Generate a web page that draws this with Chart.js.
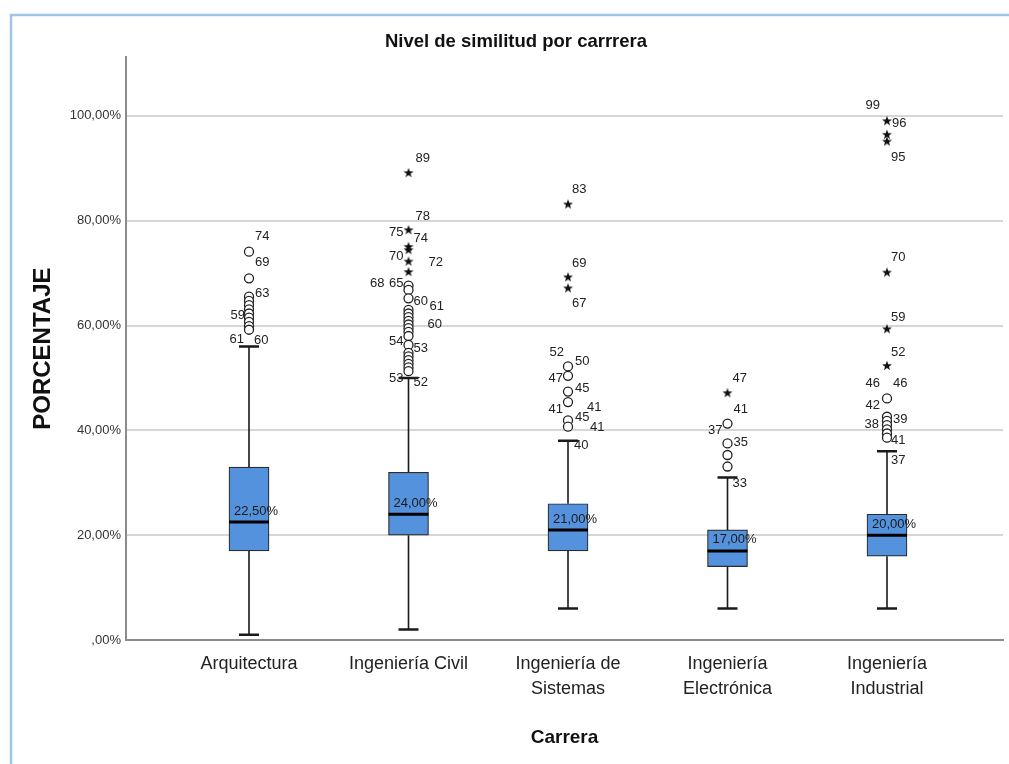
<!DOCTYPE html>
<html>
<head>
<meta charset="utf-8">
<script src="https://cdn.jsdelivr.net/npm/chart.js"></script>
<style>
  body { margin: 0; background: #fff; }
</style>
</head>
<body>
<canvas id="box" width="1009" height="764"></canvas>
<script>
// categorias (lineas de la etiqueta)
const carreras = [['Arquitectura'], ['Ingeniería Civil'], ['Ingeniería de', 'Sistemas'], ['Ingeniería', 'Electrónica'], ['Ingeniería', 'Industrial']];

// resumen de cada caja (%)
const bigoteMin = [1, 2, 6, 6, 6];
const q1 = [17, 20, 17, 14, 16];
const mediana = [22.5, 24, 21, 17, 20];
const q3 = [33, 32, 26, 21, 24];
const bigoteMax = [56, 50, 38, 31, 36];
const medianaTxt = ['22,50%', '24,00%', '21,00%', '17,00%', '20,00%'];

const yTicks = [0, 20, 40, 60, 80, 100];

// atipicos (circulo): [carrera, valor]
const atipicos = [
  [0, 74.1], [0, 69.0], [0, 65.5], [0, 64.7], [0, 63.9], [0, 63.1], [0, 62.3], [0, 61.5], [0, 60.7], [0, 59.9], [0, 59.2],
  [1, 67.6], [1, 66.8], [1, 65.2], [1, 63.0], [1, 62.3], [1, 61.6], [1, 60.9], [1, 60.2], [1, 59.5], [1, 58.8], [1, 58.0],
  [1, 56.3], [1, 54.8], [1, 54.1], [1, 53.4], [1, 52.7], [1, 52.0], [1, 51.3],
  [2, 52.2], [2, 50.4], [2, 47.4], [2, 45.4], [2, 41.9], [2, 40.7],
  [3, 41.3], [3, 37.5], [3, 35.3], [3, 33.1],
  [4, 46.1], [4, 42.6], [4, 41.8], [4, 41.0], [4, 40.2], [4, 39.4], [4, 38.6]
];
// extremos (estrella): [carrera, valor]
const extremos = [
  [1, 89.1], [1, 78.2], [1, 75.0], [1, 74.4], [1, 72.2], [1, 70.2],
  [2, 83.1], [2, 69.2], [2, 67.1],
  [3, 47.1],
  [4, 99.0], [4, 96.4], [4, 95.1], [4, 70.1], [4, 59.3], [4, 52.3]
];

// numero de caso: [texto, carrera, valor del punto al que acompana]
const casos = [
  ['74', 0, 74.1], ['69', 0, 69.0], ['63', 0, 65.5], ['59', 0, 61.5], ['61', 0, 59.2], ['60', 0, 59.2],
  ['89', 1, 89.1], ['78', 1, 78.2], ['75', 1, 78.2], ['74', 1, 75.0], ['70', 1, 72.2], ['72', 1, 72.2],
  ['68', 1, 67.6], ['65', 1, 67.6], ['60', 1, 65.2], ['61', 1, 65.2], ['60', 1, 60.2], ['54', 1, 56.3],
  ['53', 1, 56.3], ['53', 1, 51.3], ['52', 1, 51.3],
  ['83', 2, 83.1], ['69', 2, 69.2], ['67', 2, 67.1], ['52', 2, 52.2], ['50', 2, 52.2], ['47', 2, 50.4],
  ['45', 2, 47.4], ['41', 2, 45.4], ['41', 2, 45.4], ['45', 2, 41.9], ['41', 2, 40.7], ['40', 2, 38],
  ['47', 3, 47.1], ['41', 3, 41.3], ['37', 3, 41.3], ['35', 3, 37.5], ['33', 3, 31],
  ['99', 4, 99.0], ['96', 4, 99.0], ['95', 4, 95.1], ['70', 4, 70.1], ['59', 4, 59.3], ['52', 4, 52.3],
  ['46', 4, 46.1], ['46', 4, 46.1], ['42', 4, 46.1], ['38', 4, 42.6], ['39', 4, 42.6], ['41', 4, 38.6], ['37', 4, 36]
];
// desplazamiento en px de cada numero de caso (dx<0: a la izquierda)
const casosPos = [
  [6, -15], [6, -16], [6, -3], [-4, -2], [-5, 10], [5, 11],
  [7, -15], [7, -14], [-5, 2], [5, -9], [-5, -5], [20, 1],
  [-24, -2], [-5, -2], [5, 3], [21, 8], [19, 0], [-5, -4],
  [5, 3], [-5, 7], [5, 11],
  [4, -15], [4, -14], [4, 15], [-4, -14], [7, -5], [-5, 3],
  [7, -3], [-5, 7], [19, 5], [7, -3], [22, 1], [6, 5],
  [5, -15], [6, -14], [-5, 7], [6, -1], [5, 6],
  [-7, -16], [5, 2], [4, 16], [4, -15], [4, -12], [4, -13],
  [-7, -15], [6, -15], [-7, 7], [-8, 8], [6, 3], [4, 3], [4, 9]
];

const FN = '"Liberation Sans", Arial, sans-serif';

function estrella() {
  const c = document.createElement('canvas');
  c.width = 12; c.height = 12;
  const g = c.getContext('2d');
  g.fillStyle = '#111';
  g.beginPath();
  for (let k = 0; k < 10; k++) {
    const r = k % 2 ? 2.1 : 5.2;
    const a = -Math.PI / 2 + k * Math.PI / 5;
    g.lineTo(6 + r * Math.cos(a), 6 + r * Math.sin(a));
  }
  g.closePath();
  g.fill();
  return c;
}

const cajaExtra = {
  id: 'cajaExtra',
  beforeDatasetsDraw(chart) {
    const {ctx, scales: {x, y}} = chart;
    ctx.save();
    ctx.strokeStyle = '#1a1a1a';
    carreras.forEach((c, i) => {
      const px = x.getPixelForValue(i + 1);
      const top = y.getPixelForValue(bigoteMax[i]);
      const bot = y.getPixelForValue(bigoteMin[i]);
      ctx.lineWidth = 1.6;
      ctx.beginPath();
      ctx.moveTo(px, top); ctx.lineTo(px, y.getPixelForValue(q3[i]));
      ctx.moveTo(px, y.getPixelForValue(q1[i])); ctx.lineTo(px, bot);
      ctx.stroke();
      ctx.lineWidth = 2.5;
      ctx.beginPath();
      ctx.moveTo(px - 10, top); ctx.lineTo(px + 10, top);
      ctx.moveTo(px - 10, bot); ctx.lineTo(px + 10, bot);
      ctx.stroke();
    });
    ctx.restore();
  },
  afterDatasetsDraw(chart) {
    const {ctx, scales: {x, y}} = chart;
    const barras = chart.getDatasetMeta(0).data;
    ctx.save();
    carreras.forEach((c, i) => {
      const b = barras[i];
      const my = y.getPixelForValue(mediana[i]);
      ctx.strokeStyle = '#000';
      ctx.lineWidth = 3;
      ctx.beginPath();
      ctx.moveTo(b.x - b.width / 2, my); ctx.lineTo(b.x + b.width / 2, my);
      ctx.stroke();
      ctx.fillStyle = '#1a1a1a';
      ctx.font = '13px ' + FN;
      ctx.textAlign = 'left';
      ctx.textBaseline = 'middle';
      ctx.fillText(medianaTxt[i], b.x - b.width / 2 + 5, my - 11);
    });
    ctx.font = '13px ' + FN;
    ctx.fillStyle = '#222';
    ctx.textBaseline = 'middle';
    casos.forEach(([t, c, v], k) => {
      const [dx, dy] = casosPos[k];
      ctx.textAlign = dx < 0 ? 'right' : 'left';
      ctx.fillText(t, x.getPixelForValue(c + 1) + dx, y.getPixelForValue(v) + dy);
    });
    ctx.restore();
  }
};

const marco = {
  id: 'marco',
  afterDraw(chart) {
    const ctx = chart.ctx;
    ctx.save();
    ctx.strokeStyle = '#9fc5e8';
    ctx.lineWidth = 2.5;
    ctx.beginPath();
    ctx.moveTo(11, 764); ctx.lineTo(11, 15); ctx.lineTo(1009, 15);
    ctx.stroke();
    ctx.restore();
  }
};

new Chart(document.getElementById('box'), {
  type: 'bar',
  data: {
    datasets: [
      {
        type: 'bar',
        data: carreras.map((c, i) => ({x: i + 1, y: [q1[i], q3[i]]})),
        backgroundColor: '#5592dd',
        borderColor: '#2b2b2b',
        borderWidth: 1.2,
        borderSkipped: false,
        barThickness: 40
      },
      {
        type: 'scatter',
        data: atipicos.map(([c, v]) => ({x: c + 1, y: v})),
        pointStyle: 'circle',
        radius: 4.5,
        backgroundColor: '#fff',
        borderColor: '#222',
        borderWidth: 1.3
      },
      {
        type: 'scatter',
        data: extremos.map(([c, v]) => ({x: c + 1, y: v})),
        pointStyle: estrella(),
        radius: 5
      }
    ]
  },
  options: {
    responsive: false,
    animation: false,
    events: [],
    layout: { padding: { left: 23, right: 0, top: 0, bottom: 0 } },
    plugins: {
      legend: { display: false },
      tooltip: { enabled: false },
      title: {
        display: true,
        text: 'Nivel de similitud por carrrera',
        color: '#111',
        font: { family: FN, size: 18.5, weight: 'bold' },
        padding: { top: 31, bottom: 4 }
      }
    },
    scales: {
      x: {
        type: 'linear',
        offset: false,
        min: 0.2288,
        max: 5.7273,
        afterBuildTicks: s => { s.ticks = carreras.map((c, i) => ({value: i + 1})); },
        afterFit: s => { s.height = 124; s.paddingLeft = 0; s.paddingRight = 0; },
        grid: { display: false, offset: false },
        border: { color: '#8a8a8a', width: 2 },
        ticks: {
          callback: v => carreras[v - 1],
          color: '#222',
          font: { family: FN, size: 18, lineHeight: 1.39 },
          padding: 4,
          autoSkip: false,
          maxRotation: 0
        },
        title: {
          display: true,
          text: 'Carrera',
          color: '#111',
          font: { family: FN, size: 19, weight: 'bold' },
          padding: { bottom: 15 }
        }
      },
      y: {
        min: 0,
        max: 111.2,
        afterBuildTicks: s => { s.ticks = yTicks.map(v => ({value: v})); },
        afterFit: s => { s.width = 103; },
        grid: { color: '#d6d6d6', lineWidth: 2, drawTicks: false },
        border: { color: '#8a8a8a', width: 2 },
        ticks: {
          callback: v => (v === 0 ? '' : v) + ',00%',
          color: '#333',
          font: { family: FN, size: 13 },
          padding: 5
        },
        title: {
          display: true,
          text: 'PORCENTAJE',
          color: '#111',
          font: { family: FN, size: 24, weight: 'bold' },
          padding: { top: 6 }
        }
      }
    }
  },
  plugins: [cajaExtra, marco]
});
</script>
</body>
</html>
